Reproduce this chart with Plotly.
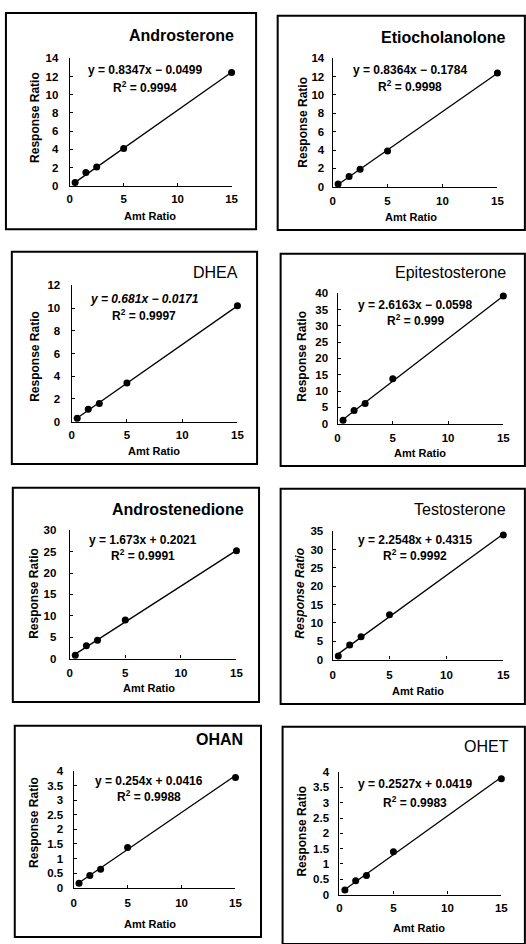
import plotly.graph_objects as go

W, H = 526, 944

# ---------------- data ----------------
names = ["Androsterone", "Etiocholanolone", "DHEA", "Epitestosterone",
         "Androstenedione", "Testosterone", "OHAN", "OHET"]
amt_ratio = [0.5, 1.5, 2.5, 5, 15]
androsterone = [0.35, 1.45, 2.05, 4.1, 12.45]
etiocholanolone = [0.3, 1.1, 1.9, 3.9, 12.4]
dhea = [0.3, 1.1, 1.6, 3.4, 10.2]
epitestosterone = [1.0, 4.0, 6.2, 13.8, 39.2]
androstenedione = [0.8, 3.0, 4.3, 9.0, 25.2]
testosterone = [1.0, 4.0, 6.2, 12.2, 34.0]
ohan = [0.15, 0.42, 0.63, 1.38, 3.78]
ohet = [0.15, 0.45, 0.62, 1.4, 3.78]
series = [androsterone, etiocholanolone, dhea, epitestosterone,
          androstenedione, testosterone, ohan, ohet]
slopes = [0.8347, 0.8364, 0.681, 2.6163, 1.673, 2.2548, 0.254, 0.2527]
intercepts = [-0.0499, -0.1784, -0.0171, -0.0598, 0.2021, 0.4315, 0.0416, 0.0419]
equations = ["y = 0.8347x \u2212 0.0499", "y = 0.8364x \u2212 0.1784",
             "y = 0.681x \u2212 0.0171", "y = 2.6163x \u2212 0.0598",
             "y = 1.673x + 0.2021", "y = 2.2548x + 0.4315",
             "y = 0.254x + 0.0416", "y = 0.2527x + 0.0419"]
r2_texts = ["R<sup>2</sup> = 0.9994", "R<sup>2</sup> = 0.9998", "R<sup>2</sup> = 0.9997",
            "R<sup>2</sup> = 0.999", "R<sup>2</sup> = 0.9991", "R<sup>2</sup> = 0.9992",
            "R<sup>2</sup> = 0.9988", "R<sup>2</sup> = 0.9983"]
y_max = [14, 14, 12, 40, 30, 35, 4, 4]
y_dtick = [2, 2, 2, 5, 5, 5, 0.5, 0.5]
x_ticks = [0, 5, 10, 15]

# ---------------- layout (pixels) ----------------
# plot area: x0, x1, ytop, ybottom
areas = [(68, 233, 53, 182), (336, 504, 53, 183),
         (70, 239, 283, 421), (341, 510, 291, 423),
         (68, 238, 531, 661), (336, 510, 532, 662),
         (72, 237, 775, 893), (343, 508, 776, 900)]
boxes = [(3, 258, 7, 226), (280, 532, 10, 227),
         (9, 259, 249, 464), (283, 532, 251, 466),
         (10, 261, 488, 705), (283, 532, 489, 707),
         (12, 263, 729, 943), (285, 532, 730, 950)]
title_pos = [(238, 30), (515, 32), (242, 270), (515, 270),
             (248, 510), (515, 510), (247, 743), (518, 750)]
title_bold = [True, True, False, False, True, False, True, False]
eq_pos = [(145, 65, 82), (415, 65, 81), (144, 297, 313), (420, 303, 318),
          (143, 541, 556), (420, 541, 556), (149, 785, 800), (420, 788, 806)]
ytitle_pos = [(32, 113), (305, 118), (33, 355), (305, 355),
              (32, 595), (303, 595), (32, 827), (305, 836)]
xtitle_pos = [(150, 213), (416, 214), (154, 451), (425, 453),
              (149, 691), (423, 694), (150, 930), (424, 934)]
ytick_gap = [8, 5, 8, 6, 10, 6, 7, 7]
xtick_gap = [2, 3, 2, 3, 4, 5, 4, 3]

FONT = "Liberation Sans, Arial, sans-serif"


def px(x):
    return x / W


def py(y):
    return 1 - y / H


fig = go.Figure()
annotations = []
shapes = []

for i in range(8):
    ax = "" if i == 0 else str(i + 1)
    xa, ya = "x" + ax, "y" + ax
    x0, x1, yt, yb = areas[i]
    xs = amt_ratio
    ys = series[i]
    xl = [min(xs), max(xs)]
    yl = [slopes[i] * v + intercepts[i] for v in xl]
    fig.add_trace(go.Scatter(x=xl, y=yl, mode="lines", xaxis=xa, yaxis=ya,
                             line=dict(color="black", width=1.3),
                             showlegend=False, hoverinfo="skip", cliponaxis=False))
    fig.add_trace(go.Scatter(x=xs, y=ys, mode="markers", xaxis=xa, yaxis=ya,
                             marker=dict(color="black", size=7),
                             showlegend=False, cliponaxis=False))
    ax_common = dict(showline=True, linecolor="black", linewidth=1.2,
                     ticks="inside", ticklen=3, tickcolor="black", tickwidth=1.2,
                     showgrid=False, zeroline=False,
                     tickfont=dict(family=FONT, size=11.5, color="black", weight="bold"))
    fig.update_layout(**{
        "xaxis" + ax: dict(domain=[px(x0), px(x1)], range=[0, 15],
                           tickvals=x_ticks, anchor=ya,
                           ticklabelstandoff=xtick_gap[i], **ax_common),
        "yaxis" + ax: dict(domain=[py(yb), py(yt)], range=[0, y_max[i]],
                           dtick=y_dtick[i], tick0=0, anchor=xa,
                           ticklabelstandoff=ytick_gap[i], **ax_common),
    })
    # title
    tx, ty = title_pos[i]
    annotations.append(dict(x=px(tx), y=py(ty), xref="paper", yref="paper",
                            text=names[i], showarrow=False, xanchor="right",
                            yanchor="middle",
                            font=dict(family=FONT, size=16, color="black",
                                      weight="bold" if title_bold[i] else "normal")))
    ex, ey, ry = eq_pos[i]
    italic = "italic" if i == 2 else "normal"
    annotations.append(dict(x=px(ex), y=py(ey), xref="paper", yref="paper",
                            text=equations[i], showarrow=False, xanchor="center",
                            yanchor="middle",
                            font=dict(family=FONT, size=12, color="black",
                                      weight="bold", style=italic)))
    annotations.append(dict(x=px(ex), y=py(ry), xref="paper", yref="paper",
                            text=r2_texts[i], showarrow=False, xanchor="center",
                            yanchor="middle",
                            font=dict(family=FONT, size=12, color="black",
                                      weight="bold")))
    yx, yy = ytitle_pos[i]
    annotations.append(dict(x=px(yx), y=py(yy), xref="paper", yref="paper",
                            text="Response Ratio", showarrow=False, textangle=-90,
                            xanchor="center", yanchor="middle",
                            font=dict(family=FONT, size=12, color="black",
                                      weight="bold",
                                      style="italic" if i == 5 else "normal")))
    xx, xy = xtitle_pos[i]
    annotations.append(dict(x=px(xx), y=py(xy), xref="paper", yref="paper",
                            text="Amt Ratio", showarrow=False,
                            xanchor="center", yanchor="middle",
                            font=dict(family=FONT, size=11, color="black",
                                      weight="bold")))
    bx0, bx1, by0, by1 = boxes[i]
    shapes.append(dict(type="rect", xref="paper", yref="paper",
                       x0=px(bx0), x1=px(bx1), y0=py(by1), y1=py(by0),
                       line=dict(color="black", width=2)))

fig.update_layout(width=W, height=H, margin=dict(l=0, r=0, t=0, b=0),
                  paper_bgcolor="white", plot_bgcolor="white",
                  annotations=annotations, shapes=shapes, showlegend=False)

fig.write_html("out.html", config={"displayModeBar": False},
               post_script="document.body.style.margin='0';"
                           "document.body.style.overflow='hidden';")
